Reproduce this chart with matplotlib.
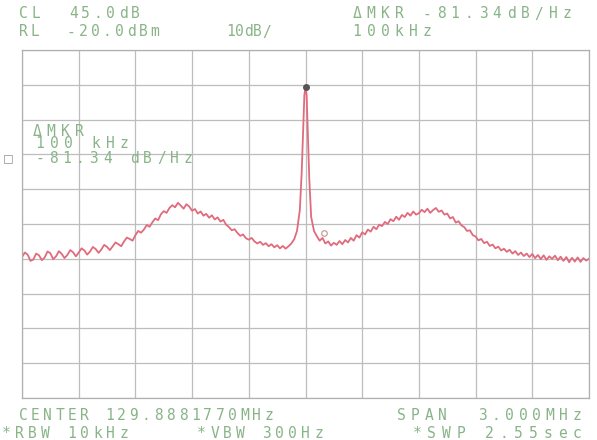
import matplotlib
matplotlib.use("Agg")
import matplotlib.pyplot as plt
import numpy as np

# spectrum analyzer settings
center_mhz = 129.888177
span_khz = 3000
ref_level = -20.0
db_per_div = 10

# sweep points every 15 kHz left and right of the carrier, plus the carrier spike
left_khz = np.arange(-1500, -59, 15)
right_khz = np.arange(60, 1501, 15)
peak_khz = [-45, -30, -20, -12, -6, 0, 6, 12, 20, 30, 45]

# trace levels in dBm
left_dbm = [-79.5, -78.2, -78.8, -80.6, -80.2, -78.5, -79.0, -80.4, -79.6, -77.9,
            -78.4, -80.1, -79.3, -77.8, -78.6, -79.8, -78.9, -77.5, -78.1, -79.3,
            -78.2, -77.0, -77.6, -78.8, -77.9, -76.6, -77.2, -78.3, -77.3, -76.0,
            -76.6, -77.5, -76.4, -75.3, -75.8, -76.4, -75.0, -73.9, -74.3, -74.8,
            -73.2, -72.0, -72.5, -71.6, -70.3, -70.8, -69.5, -68.4, -68.9, -67.2,
            -66.3, -66.8, -65.4, -64.6, -65.2, -63.9, -64.7, -65.6, -64.3, -65.0,
            -66.2, -65.7, -67.0, -66.4, -67.6, -67.1, -68.2, -67.5, -68.7, -68.1,
            -69.3, -68.8, -70.2, -70.9, -71.8, -71.5, -72.6, -73.4, -73.0, -74.1,
            -74.5, -74.0, -75.0, -75.6, -75.1, -76.0, -75.5, -76.4, -75.8, -76.7,
            -76.1, -77.0, -76.3, -77.1, -76.4, -75.6, -74.4]
peak_dbm = [-72.0, -66.0, -55.0, -42.0, -33.0, -30.5, -33.0, -43.0, -57.0, -68.0, -72.0]
right_dbm = [-73.5, -74.8, -74.0, -75.6, -75.0, -76.2, -75.4, -76.0, -74.9, -75.8,
             -74.6, -75.3, -74.0, -74.8, -73.2, -73.9, -72.4, -73.0, -71.6, -72.2,
             -70.8, -71.5, -70.2, -70.6, -69.4, -70.0, -68.6, -69.2, -67.9, -68.8,
             -67.4, -68.0, -66.8, -67.6, -66.4, -67.3, -66.9, -65.9, -66.6, -65.6,
             -66.8, -66.0, -65.4, -66.5, -66.1, -67.3, -67.0, -68.4, -68.0, -69.6,
             -69.2, -70.4, -70.9, -72.0, -71.8, -73.2, -73.6, -74.7, -74.3, -75.5,
             -75.1, -76.3, -75.9, -77.0, -76.5, -77.6, -77.1, -78.0, -77.4, -78.5,
             -77.8, -78.9, -78.2, -79.2, -78.5, -79.5, -78.6, -79.8, -78.9, -80.1,
             -79.0, -80.3, -79.3, -80.0, -79.1, -80.4, -79.4, -80.6, -79.5, -81.0,
             -79.7, -80.8, -79.6, -80.9, -79.8, -80.5, -80.0]

marker_khz = 100
marker_dbm = -72.5

offset_khz = np.concatenate([left_khz, peak_khz, right_khz])
level_dbm = np.concatenate([left_dbm, peak_dbm, right_dbm])

W, H = 597, 440
fig = plt.figure(figsize=(W / 100, H / 100), dpi=100)
fig.patch.set_facecolor("white")

# graticule area in pixels
x0, x1, y0, y1 = 22, 589, 50, 398
ax = fig.add_axes([x0 / W, 1 - y1 / H, (x1 - x0) / W, (y1 - y0) / H])

freq = center_mhz + offset_khz / 1000.0
ax.plot(freq, level_dbm, color="#e06b7c", lw=1.3)
ax.plot(center_mhz, level_dbm.max(), "o", color="#555555", ms=4)
ax.plot(center_mhz + marker_khz / 1000.0, marker_dbm, "o", mfc="none",
        mec="#c89090", ms=4, mew=0.8)

half = span_khz / 2000.0
ax.set_xlim(center_mhz - half, center_mhz + half)
ax.set_ylim(ref_level - 10 * db_per_div, ref_level)
ax.set_xticks(np.linspace(center_mhz - half, center_mhz + half, 11))
ax.set_yticks(np.arange(ref_level - 10 * db_per_div, ref_level + 1, db_per_div))
ax.grid(True, color="#bdbdbd", lw=0.9)
ax.tick_params(length=0, labelbottom=False, labelleft=False)
for s in ax.spines.values():
    s.set_color("#b0b0b0")
    s.set_linewidth(0.9)

txt_col = "#88b488"


def spaced(x, y, s, pitch=12, color=txt_col, size=10.5):
    # instrument font: fixed wide character cells
    for i, ch in enumerate(s):
        fig.text((x + i * pitch + pitch / 2) / W, 1 - y / H, ch, ha="center",
                 va="center", fontsize=size, color=color,
                 family="DejaVu Sans Mono")


spaced(17, 14, "CL  45.0dB", pitch=12.5)
spaced(17, 32, "RL  -20.0dBm", pitch=12)
spaced(226, 32, "10dB/", pitch=9)
spaced(350, 14, "\u0394MKR -81.34dB/Hz", pitch=14)
spaced(350, 32, "100kHz", pitch=14)

spaced(30, 131, "\u0394MKR", pitch=14)
spaced(33, 144, "100 kHz", pitch=14)
spaced(33, 158, "-81.34 dB/Hz", pitch=13.5)
spaced(3, 158, "\u25a1", pitch=10, color="#a0a0a0")

spaced(17, 415, "CENTER 129.8881770MHz", pitch=12.3)
spaced(395, 415, "SPAN  3.000MHz", pitch=13.5)
spaced(0, 433, "*RBW 10kHz", pitch=13)
spaced(195, 433, "*VBW 300Hz", pitch=13)
spaced(410, 433, "*SWP 2.55sec", pitch=14.5)

fig.savefig("out.png", dpi=100, facecolor="white")
